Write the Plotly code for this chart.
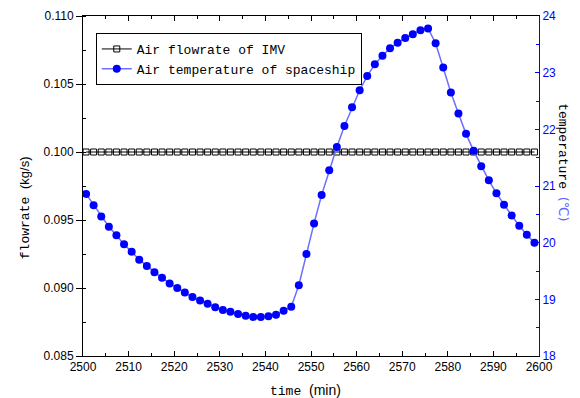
import plotly.graph_objects as go

time_min = [2500.67, 2502.33, 2504.00, 2505.67, 2507.33, 2509.00, 2510.67, 2512.33, 2514.00, 2515.67,
            2517.33, 2519.00, 2520.67, 2522.33, 2524.00, 2525.67, 2527.33, 2529.00, 2530.67, 2532.33,
            2534.00, 2535.67, 2537.33, 2539.00, 2540.67, 2542.33, 2544.00, 2545.67, 2547.33, 2549.00,
            2550.67, 2552.33, 2554.00, 2555.67, 2557.33, 2559.00, 2560.67, 2562.33, 2564.00, 2565.67,
            2567.33, 2569.00, 2570.67, 2572.33, 2574.00, 2575.67, 2577.33, 2579.00, 2580.67, 2582.33,
            2584.00, 2585.67, 2587.33, 2589.00, 2590.67, 2592.33, 2594.00, 2595.67, 2597.33, 2599.00]

flowrate = [0.100] * 60

temperature = [20.86, 20.66, 20.46, 20.28, 20.13, 19.97, 19.84, 19.70, 19.59, 19.48,
               19.38, 19.28, 19.20, 19.12, 19.04, 18.98, 18.92, 18.86, 18.81, 18.78,
               18.74, 18.71, 18.69, 18.69, 18.70, 18.73, 18.80, 18.87, 19.25, 19.80,
               20.34, 20.84, 21.28, 21.69, 22.06, 22.39, 22.69, 22.94, 23.15, 23.30,
               23.43, 23.53, 23.61, 23.68, 23.75, 23.78, 23.52, 23.09, 22.65, 22.28,
               21.92, 21.62, 21.35, 21.10, 20.87, 20.67, 20.48, 20.30, 20.14, 20.00]

MONO = "Liberation Mono, DejaVu Sans Mono, monospace"
SANS = "Liberation Sans, Arial, sans-serif"

fig = go.Figure()
fig.add_trace(go.Scatter(
    x=time_min, y=flowrate, name="Air flowrate of IMV", mode="lines+markers",
    line=dict(color="black", width=1),
    marker=dict(symbol="square-open", size=6, color="black", line=dict(width=1, color="black")),
    yaxis="y"))
fig.add_trace(go.Scatter(
    x=time_min, y=temperature, name="Air temperature of spaceship", mode="lines+markers",
    line=dict(color="rgb(110,110,255)", width=1.5),
    marker=dict(symbol="circle", size=8, color="#0000ff"),
    yaxis="y2"))

fig.update_layout(
    width=572, height=390,
    margin=dict(l=75, r=41, t=8, b=42, autoexpand=False),
    paper_bgcolor="white", plot_bgcolor="white",
    showlegend=True,
    legend=dict(x=0.028, y=0.95, xanchor="left", yanchor="top",
                bordercolor="black", borderwidth=1, bgcolor="white",
                font=dict(family=MONO, size=13, color="black"),
                tracegroupgap=0, itemwidth=30),
    xaxis=dict(range=[2500, 2600], dtick=10, tick0=2500, showgrid=False, zeroline=False,
               showline=True, linecolor="black", linewidth=1, mirror="ticks",
               ticks="inside", ticklen=5, tickcolor="black",
               minor=dict(dtick=5, ticks="inside", ticklen=3, tickcolor="black"),
               tickfont=dict(family=SANS, size=12, color="black")),
    yaxis=dict(range=[0.085, 0.110], dtick=0.005, tick0=0.085, tickformat=".3f",
               showgrid=False, zeroline=False,
               showline=True, linecolor="black", linewidth=1,
               ticks="outside", ticklen=6, tickcolor="black",
               minor=dict(dtick=0.0025, ticks="inside", ticklen=3, tickcolor="black"),
               tickfont=dict(family=SANS, size=12, color="black")),
    yaxis2=dict(range=[18, 24], dtick=1, tick0=18, overlaying="y", side="right",
                showgrid=False, zeroline=False,
                showline=True, linecolor="blue", linewidth=1,
                ticks="inside", ticklen=4, tickcolor="blue",
                minor=dict(dtick=0.5, ticks="inside", ticklen=3, tickcolor="blue"),
                tickfont=dict(family=SANS, size=12, color="blue")),
    annotations=[
        dict(text="flowrate <span style='font-family:Liberation Sans'>(kg/s)</span>",
             xref="paper", yref="paper", x=-0.127, y=0.435, textangle=-90,
             xanchor="center", yanchor="middle",
             showarrow=False, font=dict(family=MONO, size=13, color="black")),
        dict(text="temperature <span style='font-family:DejaVu Sans;color:rgb(100,100,255)'>(℃)</span>",
             xref="paper", yref="paper", x=1.052, y=0.571, textangle=90,
             xanchor="center", yanchor="middle",
             showarrow=False, font=dict(family=MONO, size=13, color="black")),
        dict(text="time <span style='font-family:Liberation Sans;font-size:14px'>(min)</span>",
             xref="paper", yref="paper", x=0.487, y=-0.1,
             xanchor="center", yanchor="middle",
             showarrow=False, font=dict(family=MONO, size=13, color="black")),
    ],
)

fig.write_html("out.html")
